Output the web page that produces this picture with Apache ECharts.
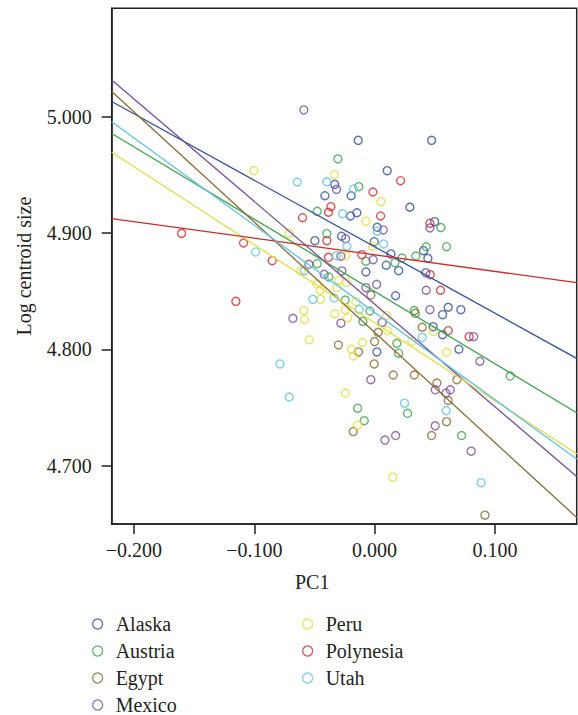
<!DOCTYPE html>
<html>
<head>
<meta charset="utf-8">
<script src="https://cdn.jsdelivr.net/npm/echarts@6/dist/echarts.min.js"></script>
<style>
  html, body { margin: 0; padding: 0; background: #fff; }
  #chart { width: 578px; height: 715px; }
</style>
</head>
<body>
<div id="chart"></div>
<script>
// group names and colours
var groups = ['Alaska', 'Austria', 'Egypt', 'Mexico', 'Peru', 'Polynesia', 'Utah']
var colors = ['#2f4f9f', '#38a548', '#8b6a2e', '#7c4c9e', '#e5de3a', '#d02b2b', '#5cc4e6']

// axis ranges and ticks
var xRange = [-0.2185, 0.168]
var yRange = [4.650, 5.093]
var xTicks = [-0.2, -0.1, 0, 0.1]
var yTicks = [4.7, 4.8, 4.9, 5.0]

// points, [PC1, log centroid size]
var alaska = [[-0.0136, 4.9796], [0.0474, 4.9796], [0.0105, 4.9535], [-0.0331, 4.9418], [-0.0413, 4.932],
  [-0.0195, 4.932], [0.0293, 4.9221], [-0.020, 4.9146], [-0.0147, 4.9174], [0.0022, 4.9049], [0.0499, 4.9097],
  [-0.0274, 4.8972], [-0.0496, 4.8934], [-0.0003, 4.8925], [0.0136, 4.882], [0.0407, 4.8848], [0.0443, 4.8783],
  [0.0097, 4.8723], [0.020, 4.8676], [-0.0072, 4.8665], [0.0426, 4.8659], [0.0175, 4.8461], [0.0565, 4.8298],
  [0.0612, 4.8362], [0.0717, 4.8341], [0.0487, 4.8195], [0.0565, 4.8126], [0.0701, 4.8001], [0.0019, 4.7978]]
var austria = [[-0.0305, 4.9636], [-0.0131, 4.9398], [-0.0477, 4.9186], [0.0551, 4.9046], [-0.0397, 4.8994],
  [0.0227, 4.8785], [0.0343, 4.8802], [0.0429, 4.8882], [0.0598, 4.8882], [-0.0477, 4.8736], [-0.038, 4.8622],
  [-0.0072, 4.8757], [0.0169, 4.8745], [-0.0244, 4.8424], [-0.0039, 4.833], [-0.0097, 4.8241], [0.033, 4.8333],
  [0.0185, 4.8052], [0.020, 4.7967], [0.1127, 4.7771], [0.0274, 4.7451], [-0.0141, 4.7495], [-0.0086, 4.7388],
  [0.0723, 4.726]]
var egypt = [[-0.030, 4.8038], [-0.0031, 4.8467], [0.003, 4.8147], [0.0338, 4.831], [0.0396, 4.819],
  [0.000, 4.8067], [-0.0133, 4.7978], [-0.0003, 4.7875], [0.0155, 4.778], [0.033, 4.778], [0.0518, 4.7711],
  [0.0684, 4.774], [0.0612, 4.7561], [-0.0178, 4.7294], [0.0598, 4.7379], [0.0474, 4.726], [0.0917, 4.6576]]
var mexico = [[-0.0588, 5.0057], [-0.0316, 4.9375], [0.0072, 4.9026], [0.046, 4.9043], [-0.0241, 4.8951],
  [-0.0546, 4.8731], [-0.0419, 4.8645], [-0.028, 4.880], [-0.0012, 4.8771], [-0.0272, 4.8674], [0.0017, 4.8559],
  [-0.0072, 4.853], [0.0429, 4.8508], [0.046, 4.8341], [-0.0679, 4.8267], [-0.028, 4.8225], [0.0063, 4.8232],
  [0.0823, 4.8109], [0.0875, 4.7898], [-0.0031, 4.774], [0.0504, 4.7653], [0.0593, 4.7625], [0.0629, 4.7653],
  [0.0504, 4.7343], [0.0175, 4.726], [0.0086, 4.7221], [0.0803, 4.7126]]
var peru = [[-0.1003, 4.9535], [-0.0333, 4.950], [0.0052, 4.9269], [-0.0072, 4.9101], [-0.071, 4.8997],
  [-0.0017, 4.8886], [-0.0239, 4.8805], [-0.0613, 4.8676], [-0.0298, 4.8595], [-0.0233, 4.8576], [-0.048, 4.8562],
  [-0.0452, 4.8508], [-0.0313, 4.8533], [-0.0449, 4.843], [-0.0155, 4.841], [-0.0244, 4.8339], [-0.0588, 4.8333],
  [-0.0582, 4.8255], [-0.033, 4.8307], [-0.0224, 4.8272], [0.010, 4.829], [0.0108, 4.8161], [0.049, 4.8155],
  [-0.0543, 4.8083], [-0.010, 4.8059], [0.031, 4.807], [-0.0191, 4.8001], [-0.0175, 4.7943], [0.0598, 4.7975],
  [-0.0244, 4.7625], [-0.0141, 4.7349], [0.0152, 4.6903]]
var polynesia = [[0.0216, 4.9449], [-0.0014, 4.9352], [-0.0363, 4.9226], [-0.0383, 4.9178], [-0.0599, 4.9131],
  [0.005, 4.9146], [0.046, 4.9083], [-0.1604, 4.8997], [-0.1089, 4.8914], [-0.0397, 4.8934], [-0.0851, 4.8762],
  [-0.0383, 4.8791], [-0.0106, 4.8814], [0.0462, 4.8642], [0.0548, 4.8508], [-0.1153, 4.8413], [0.0612, 4.8161],
  [0.0786, 4.8109]]
var utah = [[-0.0643, 4.9438], [-0.0397, 4.944], [-0.0175, 4.9378], [-0.0266, 4.9166], [0.0022, 4.9015],
  [-0.0319, 4.8805], [-0.0989, 4.8837], [-0.0585, 4.8674], [-0.023, 4.8886], [0.0075, 4.8906], [-0.0513, 4.843],
  [-0.0336, 4.8441], [-0.0128, 4.8344], [0.0396, 4.8103], [-0.0787, 4.7875], [-0.071, 4.7591], [0.0249, 4.7538],
  [0.0595, 4.7474], [0.0886, 4.6855]]

// fitted lines: y at left edge (xRange[0]) and at right edge (xRange[1])
var lineLeft = [5.0129, 4.9854, 5.0215, 5.0315, 4.9694, 4.9124, 4.9955]
var lineRight = [4.7923, 4.7456, 4.6556, 4.6908, 4.7103, 4.8573, 4.7058]

var points = [alaska, austria, egypt, mexico, peru, polynesia, utah]
var font = '"Liberation Serif", "DejaVu Serif", serif'
var textColor = '#231f20'

var series = []
groups.forEach(function (name, i) {
  series.push({
    name: name,
    type: 'scatter',
    data: points[i],
    symbol: 'circle',
    symbolSize: 8,
    itemStyle: { color: 'rgba(0,0,0,0)', borderColor: colors[i], borderWidth: 1.4 },
    emphasis: { disabled: true },
    z: 2
  })
})
groups.forEach(function (name, i) {
  series.push({
    name: name,
    type: 'line',
    data: [[xRange[0], lineLeft[i]], [xRange[1], lineRight[i]]],
    showSymbol: false,
    lineStyle: { color: colors[i], width: 1.3 },
    emphasis: { disabled: true },
    z: 3
  })
})

function legendItems (names) {
  return names.map(function (n) {
    var c = colors[groups.indexOf(n)]
    return { name: n, icon: 'circle', itemStyle: { color: 'rgba(0,0,0,0)', borderColor: c, borderWidth: 1.3 } }
  })
}

var legendBase = {
  orient: 'vertical',
  top: 614,
  height: 120,
  padding: 0,
  itemWidth: 26,
  itemHeight: 10,
  itemGap: 7,
  selectedMode: false,
  textStyle: { fontFamily: font, fontSize: 20, color: textColor }
}

var chart = echarts.init(document.getElementById('chart'), null, { renderer: 'svg' })
chart.setOption({
  animation: false,
  backgroundColor: '#fff',
  grid: {
    left: 111.7, right: 1.3, top: 8.3, bottom: 191,
    show: true, borderColor: '#222', borderWidth: 1.5
  },
  graphic: [{
    type: 'text',
    left: 295, top: 572,
    style: { text: 'PC1', fontFamily: font, fontSize: 20, fill: textColor }
  }],
  legend: [
    Object.assign({ left: 92, data: legendItems(['Alaska', 'Austria', 'Egypt', 'Mexico']) }, legendBase),
    Object.assign({ left: 302, data: legendItems(['Peru', 'Polynesia', 'Utah']) }, legendBase)
  ],
  xAxis: {
    type: 'value',
    min: xRange[0],
    max: xRange[1],
    axisLine: { show: true, onZero: false, lineStyle: { color: '#222', width: 1.5 } },
    axisTick: { show: true, inside: false, length: 10, customValues: xTicks, lineStyle: { color: '#222', width: 1.5 } },
    axisLabel: {
      customValues: xTicks,
      margin: 16,
      fontFamily: font, fontSize: 20, color: textColor,
      formatter: function (v) { return v.toFixed(3).replace('-', '\u2212') }
    },
    splitLine: { show: false }
  },
  yAxis: {
    type: 'value',
    min: yRange[0],
    max: yRange[1],
    name: 'Log centroid size',
    nameLocation: 'middle',
    nameGap: 78,
    nameTextStyle: { fontFamily: font, fontSize: 20, color: textColor },
    axisLine: { show: true, onZero: false, lineStyle: { color: '#222', width: 1.5 } },
    axisTick: { show: true, inside: false, length: 10, customValues: yTicks, lineStyle: { color: '#222', width: 1.5 } },
    axisLabel: {
      customValues: yTicks,
      margin: 20,
      fontFamily: font, fontSize: 20, color: textColor,
      formatter: function (v) { return v.toFixed(3) }
    },
    splitLine: { show: false }
  },
  series: series
})
</script>
</body>
</html>
